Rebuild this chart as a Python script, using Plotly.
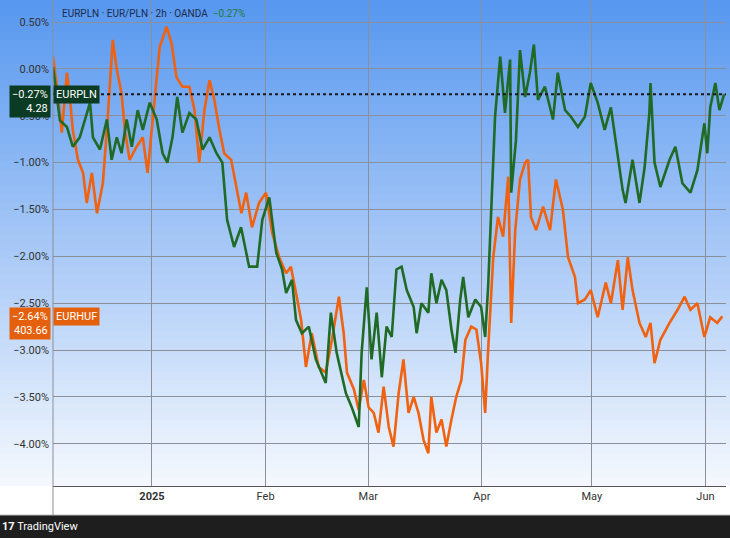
import pandas as pd
import plotly.graph_objects as go

start = pd.Timestamp('2024-12-05')

# days since start, percent change
pln_days = [0.0, 1.9, 3.8, 5.4, 7.3, 9.2, 10.1, 10.9, 12.8, 14.7, 16.0, 17.4, 18.7, 20.1, 21.5, 23.1, 24.5, 26.4,
            28.3, 29.9, 31.2, 32.6, 33.9, 35.3, 37.2, 39.1, 40.8, 42.7, 44.6, 46.2, 47.5, 49.4, 51.3, 53.5, 55.7,
            57.1, 59.0, 60.9, 62.5, 63.6, 65.2, 66.3, 67.9, 69.8, 71.7, 74.4, 75.8, 77.4, 79.9, 81.5, 83.4, 84.2,
            85.6, 86.9, 88.3, 89.7, 91.0, 92.4, 93.7, 95.1, 96.5, 98.4, 99.2, 100.5, 102.4, 103.2, 104.6, 106.0,
            107.3, 108.7, 109.8, 111.1, 111.9, 113.3, 115.2, 116.8, 117.9, 118.7, 119.5, 120.6, 122.0, 123.3,
            124.7, 125.0, 126.3, 127.4, 128.8, 130.1, 131.2, 132.3, 134.2, 136.4, 137.7, 139.7, 141.3, 143.2,
            145.1, 146.7, 148.6, 150.5, 152.2, 154.1, 155.4, 156.2, 158.1, 160.0, 161.4, 162.7, 163.0, 164.1,
            165.7, 168.2, 169.8, 171.7, 173.9, 175.8, 177.7, 178.5, 179.3, 180.7, 181.8, 183.1]
pln_pct = [0.02, -0.55, -0.62, -0.83, -0.73, -0.47, -0.36, -0.73, -0.86, -0.54, -0.97, -0.73, -0.90, -0.54, -0.83,
           -0.44, -0.65, -0.36, -0.54, -0.90, -1.00, -0.73, -0.30, -0.68, -0.47, -0.54, -0.86, -0.73, -0.90, -1.00,
           -1.61, -1.90, -1.69, -2.11, -2.11, -1.61, -1.37, -1.96, -2.14, -2.39, -2.25, -2.68, -2.82, -2.75, -3.10,
           -3.35, -2.60, -3.03, -3.46, -3.61, -3.82, -3.03, -2.33, -3.10, -2.60, -3.29, -2.75, -2.86, -2.14, -2.11,
           -2.36, -2.54, -2.82, -2.50, -2.60, -2.18, -2.50, -2.25, -2.36, -2.78, -3.03, -2.46, -2.22, -2.65, -2.46,
           -2.54, -2.86, -2.33, -1.54, -0.51, 0.13, -0.47, 0.10, -1.32, -0.76, 0.20, -0.30, -0.04, 0.26, -0.33,
           -0.19, -0.54, -0.04, -0.44, -0.51, -0.62, -0.51, -0.15, -0.36, -0.65, -0.41, -0.94, -1.29, -1.43, -0.97,
           -1.43, -1.05, -0.47, -0.15, -1.00, -1.26, -0.97, -0.83, -1.22, -1.32, -1.08, -0.58, -0.90, -0.41, -0.15,
           -0.44, -0.27]

huf_days = [0.0, 1.1, 2.4, 3.8, 4.6, 5.4, 6.8, 8.2, 9.2, 10.6, 12.0, 13.6, 14.9, 16.3, 17.4, 18.7, 19.6, 20.9, 22.8,
            24.5, 25.8, 27.2, 29.1, 31.0, 32.3, 33.7, 35.3, 37.2, 38.6, 39.9, 41.3, 42.7, 44.0, 45.4, 46.7, 48.6,
            50.0, 51.4, 52.7, 54.3, 56.2, 58.1, 59.8, 61.7, 63.6, 64.9, 66.3, 67.7, 69.0, 70.6, 72.5, 74.4, 76.1,
            78.0, 79.3, 80.2, 82.1, 83.4, 84.8, 86.1, 87.5, 88.8, 90.2, 91.6, 92.9, 94.3, 95.6, 97.0, 98.4, 99.7,
            101.1, 102.4, 103.2, 104.6, 106.0, 107.3, 108.7, 110.0, 111.4, 112.5, 114.1, 115.5, 116.8, 117.9,
            118.7, 120.1, 121.4, 122.8, 124.2, 125.0, 126.1, 127.4, 128.8, 129.6, 130.4, 131.8, 133.7, 135.6,
            137.2, 139.1, 140.5, 142.4, 143.2, 145.1, 146.7, 148.6, 150.8, 152.2, 154.1, 155.4, 156.8, 158.1,
            160.0, 161.7, 163.0, 164.1, 165.7, 168.2, 170.4, 172.3, 173.9, 175.8, 177.7, 179.3, 181.2, 182.6]
huf_pct = [0.13, -0.19, -0.68, -0.04, -0.30, -0.65, -0.97, -1.11, -1.43, -1.11, -1.54, -1.22, -0.54, 0.31, -0.01,
           -0.26, -0.65, -0.97, -0.83, -0.73, -1.11, -0.54, 0.23, 0.45, 0.28, -0.09, -0.19, -0.19, -0.44, -1.00,
           -0.44, -0.12, -0.33, -0.65, -0.90, -0.97, -1.26, -1.54, -1.32, -1.69, -1.43, -1.32, -1.75, -2.01, -2.18,
           -2.11, -2.39, -2.68, -3.18, -2.82, -3.18, -3.24, -2.89, -2.43, -2.82, -3.24, -3.42, -3.64, -3.32, -3.61,
           -3.67, -3.88, -3.39, -3.82, -4.03, -3.46, -3.10, -3.67, -3.50, -3.67, -3.96, -4.10, -3.50, -3.88, -3.74,
           -4.03, -3.74, -3.50, -3.32, -2.89, -2.75, -2.78, -3.14, -3.67, -3.00, -2.01, -1.58, -1.79, -1.15, -2.71,
           -1.72, -1.18, -1.00, -0.97, -1.58, -1.72, -1.47, -1.72, -1.18, -1.50, -2.01, -2.22, -2.50, -2.46, -2.36,
           -2.65, -2.28, -2.50, -2.04, -2.57, -2.01, -2.36, -2.71, -2.86, -2.71, -3.14, -2.89, -2.71, -2.57, -2.43,
           -2.57, -2.50, -2.86, -2.65, -2.71, -2.64]

y_ticks = [0.5, 0.0, -0.5, -1.0, -1.5, -2.0, -2.5, -3.0, -3.5, -4.0]
y_text = [f'{v:.2f}%'.replace('-', '−') for v in y_ticks]
x_ticks = ['2025-01-01', '2025-02-01', '2025-03-01', '2025-04-01', '2025-05-01', '2025-06-01']
x_text = ['<b>2025</b>', 'Feb', 'Mar', 'Apr', 'May', 'Jun']

pln_x = [start + pd.Timedelta(days=d) for d in pln_days]
huf_x = [start + pd.Timedelta(days=d) for d in huf_days]

fig = go.Figure()
fig.add_trace(go.Scatter(x=huf_x, y=huf_pct, mode='lines', line=dict(color='#f0620f', width=2.6)))
fig.add_trace(go.Scatter(x=pln_x, y=pln_pct, mode='lines', line=dict(color='#1f6a24', width=2.6)))

H = 486.0  # plot height in px
# blue gradient background
shapes = []
n = 60
top, bot = (88, 152, 240), (244, 248, 254)
for i in range(n):
    t = i / (n - 1)
    c = tuple(int(top[k] + (bot[k] - top[k]) * t) for k in range(3))
    shapes.append(dict(type='rect', xref='paper', yref='paper', x0=-0.1, x1=1.01,
                       y0=1 - (i + 1) / n, y1=1 - i / n + 0.002,
                       fillcolor='rgb(%d,%d,%d)' % c, line_width=0, layer='below'))
shapes.append(dict(type='rect', xref='paper', yref='paper', x0=-0.1, x1=1.01, y0=-52 / H, y1=-29 / H,
                   fillcolor='#1e1e1e', line_width=0))
shapes.append(dict(type='line', xref='paper', yref='paper', x0=-0.1, x1=1.01, y0=-29 / H, y1=-29 / H,
                   line=dict(color='#bbb', width=1)))
shapes.append(dict(type='line', xref='paper', yref='y', x0=0, x1=1, y0=-0.27, y1=-0.27,
                   line=dict(color='#1a1a1a', width=2, dash='dot')))
shapes.append(dict(type='line', xref='paper', yref='paper', x0=0, x1=0, y0=-29 / H, y1=1,
                   line=dict(color='#8a8f99', width=1)))

ann = [
    dict(xref='paper', yref='paper', x=0.01, y=1 - 14 / H, xanchor='left', yanchor='middle', showarrow=False,
         text='EURPLN · EUR/PLN · 2h · OANDA  <span style="color:#1f7a3a">−0.27%</span>',
         font=dict(size=10, color='#1c2b4a')),
    dict(xref='paper', yref='y', x=-0.003, y=-0.27, xanchor='right', yanchor='top', showarrow=False,
         text='−0.27%<br>4.28', align='right', bgcolor='#0c3b24', font=dict(size=11, color='white'),
         yshift=9, borderpad=2),
    dict(xref='paper', yref='y', x=0.0, y=-0.27, xanchor='left', yanchor='middle', showarrow=False,
         text='EURPLN', bgcolor='#0c3b24', font=dict(size=11, color='white'), borderpad=2),
    dict(xref='paper', yref='y', x=-0.003, y=-2.64, xanchor='right', yanchor='top', showarrow=False,
         text='−2.64%<br>403.66', align='right', bgcolor='#e5600d', font=dict(size=11, color='white'),
         yshift=9, borderpad=2),
    dict(xref='paper', yref='y', x=0.0, y=-2.64, xanchor='left', yanchor='middle', showarrow=False,
         text='EURHUF', bgcolor='#e5600d', font=dict(size=11, color='white'), borderpad=2),
    dict(xref='paper', yref='paper', x=-53 / 673, y=-40.5 / H, xanchor='left', yanchor='middle', showarrow=False,
         text='<b>17</b> TradingView', font=dict(size=11, color='white')),
]

fig.update_layout(
    width=730, height=538, margin=dict(l=53, r=4, t=0, b=52),
    paper_bgcolor='white', plot_bgcolor='rgba(0,0,0,0)',
    showlegend=False, shapes=shapes, annotations=ann,
    font=dict(family='Roboto, sans-serif', color='#333'),
    xaxis=dict(range=[start, start + pd.Timedelta(days=183.6)], tickvals=x_ticks, ticktext=x_text,
               showgrid=True, gridcolor='#8a8f99', gridwidth=1, ticks='', zeroline=False, automargin=False,
               showline=True, linecolor='#555', linewidth=1, tickfont=dict(size=11, color='#333')),
    yaxis=dict(range=[-4.45, 0.735], tickvals=y_ticks, ticktext=y_text, showgrid=True, automargin=False,
               gridcolor='#8a8f99', gridwidth=1, zeroline=False, ticks='', ticklabelstandoff=3,
               tickfont=dict(size=11, color='#333')),
)

# page margin off so the figure sits at the window's top-left corner
fig.write_html('out.html', config={'displayModeBar': False},
               post_script="document.body.style.margin='0';")
